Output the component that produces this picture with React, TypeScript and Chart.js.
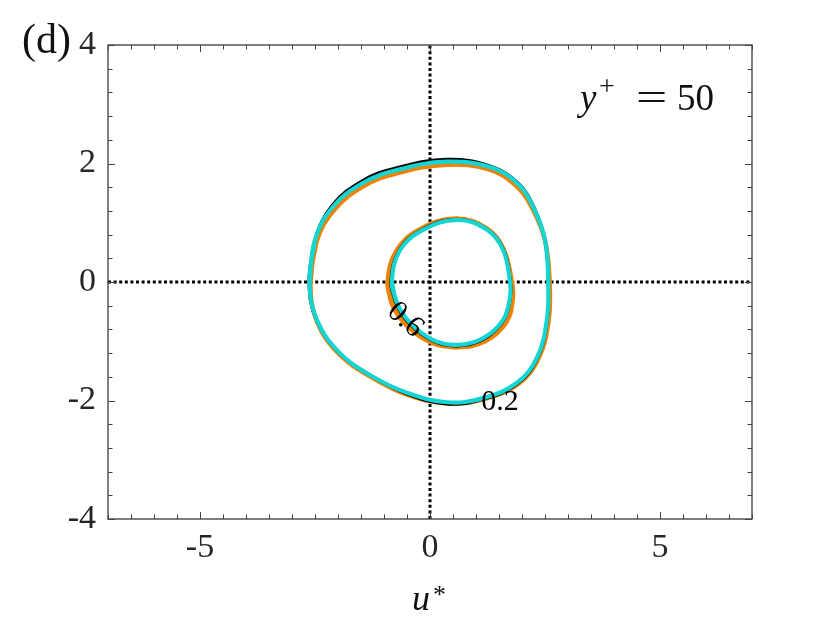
import { useEffect, useRef } from "react";
import { Chart, registerables } from "chart.js";

Chart.register(...registerables);

// ---- axis ticks ----
const xTickValues = [-5, 0, 5];
const yTickValues = [-4, -2, 0, 2, 4];
const xRange = [-7, 7];
const yRange = [-4, 4];

// ---- contour level 0.2 (outer loop), [u*, v*] ----
const outer02Orange: [number, number][] = [
  [-2.6, 0], [-2.47, 0.68], [-2.08, 1.22], [-1.44, 1.62], [-0.7, 1.84], [0.37, 1.98],
  [1.28, 1.9], [1.86, 1.63], [2.22, 1.25], [2.5, 0.7], [2.6, 0], [2.58, -0.64],
  [2.37, -1.27], [1.92, -1.72], [1.15, -1.98], [0.37, -2.05], [-0.5, -1.9],
  [-1.24, -1.62], [-1.97, -1.22], [-2.46, -0.66],
];
const outer02Black: [number, number][] = [
  [-2.63, 0], [-2.5, 0.72], [-2.12, 1.3], [-1.47, 1.71], [-0.72, 1.93], [0.37, 2.07],
  [1.3, 1.96], [1.9, 1.68], [2.25, 1.28], [2.5, 0.71], [2.57, 0], [2.55, -0.64],
  [2.34, -1.28], [1.9, -1.72], [1.15, -1.98], [0.37, -2.06], [-0.5, -1.89],
  [-1.24, -1.6], [-1.97, -1.2], [-2.47, -0.64],
];
const outer02Cyan: [number, number][] = [
  [-2.62, 0], [-2.5, 0.71], [-2.11, 1.27], [-1.46, 1.67], [-0.72, 1.89], [0.37, 2.03],
  [1.3, 1.94], [1.89, 1.67], [2.24, 1.27], [2.5, 0.71], [2.57, 0], [2.54, -0.64],
  [2.33, -1.27], [1.89, -1.7], [1.15, -1.96], [0.37, -2.03], [-0.5, -1.87],
  [-1.24, -1.6], [-1.96, -1.2], [-2.46, -0.64],
];

// ---- contour level 0.6 (inner loop) ----
const inner06Orange: [number, number][] = [
  [-0.92, 0], [-0.82, -0.38], [-0.5, -0.74], [0.05, -1.03], [0.6, -1.1], [1.2, -1.0],
  [1.66, -0.68], [1.8, -0.28], [1.78, 0], [1.6, 0.55], [1.24, 0.9], [0.57, 1.07],
  [-0.2, 0.9], [-0.72, 0.54],
];
const inner06Black: [number, number][] = [
  [-0.85, 0], [-0.74, -0.36], [-0.44, -0.71], [0.07, -1.0], [0.6, -1.08], [1.16, -0.97],
  [1.6, -0.65], [1.75, -0.25], [1.75, 0], [1.6, 0.55], [1.24, 0.89], [0.58, 1.06],
  [-0.16, 0.89], [-0.66, 0.55],
];
const inner06Cyan: [number, number][] = [
  [-0.83, 0], [-0.72, -0.35], [-0.43, -0.69], [0.07, -0.98], [0.59, -1.06], [1.15, -0.95],
  [1.59, -0.64], [1.74, -0.25], [1.74, 0], [1.59, 0.54], [1.24, 0.88], [0.59, 1.05],
  [-0.15, 0.88], [-0.65, 0.54],
];

// ---- contour labels ----
const contourLabelText = ["0.6", "0.2"];
const contourLabelU = [-0.54, 1.52];
const contourLabelV = [-0.64, -2.03];
const contourLabelAngle = [42, 0];

const closeLoop = (pts: [number, number][]) =>
  [...pts, pts[0], pts[1]].map(([x, y]) => ({ x, y }));

const ORANGE = "#EF8200";
const CYAN = "#14D4D4";
const SERIF = "'Liberation Serif', 'DejaVu Serif', serif";

const framePlugin = {
  id: "framePlugin",
  afterDraw(chart: any) {
    const { ctx, chartArea, scales } = chart;
    const { left, right, top, bottom } = chartArea;
    const xs = scales.x;
    const ys = scales.y;
    ctx.save();
    // box
    ctx.strokeStyle = "#2b2b2b";
    ctx.lineWidth = 1.2;
    ctx.strokeRect(left, top, right - left, bottom - top);
    // ticks
    ctx.strokeStyle = "#444";
    ctx.lineWidth = 1;
    ctx.beginPath();
    for (let v = xRange[0]; v <= xRange[1] + 1e-9; v += 0.5) {
      const major = xTickValues.includes(v);
      const len = major ? 7 : 4.5;
      const px = Math.round(xs.getPixelForValue(v)) + 0.5;
      ctx.moveTo(px, bottom);
      ctx.lineTo(px, bottom - len);
      ctx.moveTo(px, top);
      ctx.lineTo(px, top + len);
    }
    for (let v = yRange[0]; v <= yRange[1] + 1e-9; v += 0.4) {
      const r = Math.round(v * 10) / 10;
      const major = yTickValues.includes(r);
      const len = major ? 7 : 4.5;
      const py = Math.round(ys.getPixelForValue(r)) + 0.5;
      ctx.moveTo(left, py);
      ctx.lineTo(left + len, py);
      ctx.moveTo(right, py);
      ctx.lineTo(right - len, py);
    }
    ctx.stroke();

    // contour labels
    ctx.fillStyle = "#000";
    ctx.textAlign = "center";
    ctx.textBaseline = "middle";
    ctx.font = `30px ${SERIF}`;
    contourLabelText.forEach((t, i) => {
      const px = xs.getPixelForValue(contourLabelU[i]);
      const py = ys.getPixelForValue(contourLabelV[i]);
      ctx.save();
      ctx.translate(px, py);
      ctx.rotate((contourLabelAngle[i] * Math.PI) / 180);
      ctx.fillText(t, 0, 0);
      ctx.restore();
    });

    // panel label
    ctx.textAlign = "left";
    ctx.textBaseline = "alphabetic";
    ctx.fillStyle = "#111";
    ctx.font = `42px ${SERIF}`;
    ctx.fillText("(d)", 22, 53);

    // y+ = 50
    ctx.font = `italic 37px ${SERIF}`;
    ctx.fillText("y", 580, 110);
    ctx.font = `28px ${SERIF}`;
    ctx.fillText("+", 599, 95);
    ctx.font = `37px ${SERIF}`;
    ctx.save();
    ctx.translate(636, 110);
    ctx.scale(1.5, 1);
    ctx.fillText("=", 0, 0);
    ctx.restore();
    ctx.fillText("50", 677, 110);

    // x-axis title u*
    const cx = (left + right) / 2;
    ctx.font = `italic 36px ${SERIF}`;
    ctx.fillText("u", cx - 18, 610);
    ctx.font = `26px ${SERIF}`;
    ctx.fillText("*", cx + 3, 603);
    ctx.restore();
  },
};

export default function App() {
  const ref = useRef<HTMLCanvasElement | null>(null);
  useEffect(() => {
    document.body.style.margin = "0";
    const canvas = ref.current!;
    const line = (data: any[], color: string, width: number, order: number) => ({
      data,
      showLine: true,
      borderColor: color,
      borderWidth: width,
      pointRadius: 0,
      tension: 0.4,
      fill: false,
      order,
    });
    const chart = new Chart(canvas, {
      type: "scatter",
      data: {
        datasets: [
          {
            data: [{ x: xRange[0], y: 0 }, { x: xRange[1], y: 0 }],
            showLine: true,
            borderColor: "#000",
            borderWidth: 3,
            borderDash: [3, 2.6],
            pointRadius: 0,
            order: 10,
          },
          {
            data: [{ x: 0, y: yRange[0] }, { x: 0, y: yRange[1] }],
            showLine: true,
            borderColor: "#000",
            borderWidth: 3,
            borderDash: [3, 2.6],
            pointRadius: 0,
            order: 10,
          },
          line(closeLoop(outer02Orange), ORANGE, 4.5, 5),
          line(closeLoop(inner06Orange), ORANGE, 4.5, 5),
          line(closeLoop(outer02Black), "#000", 3, 4),
          line(closeLoop(inner06Black), "#000", 3, 4),
          line(closeLoop(outer02Cyan), CYAN, 4.2, 1),
          line(closeLoop(inner06Cyan), CYAN, 4.2, 1),
        ],
      } as any,
      options: {
        responsive: false,
        animation: false,
        events: [],
        layout: { padding: { left: 0, top: 45, right: 78, bottom: 0 } },
        plugins: { legend: { display: false }, tooltip: { enabled: false } },
        scales: {
          x: {
            type: "linear",
            min: xRange[0],
            max: xRange[1],
            grid: { display: false, drawTicks: false },
            border: { display: false },
            afterBuildTicks: (s: any) => {
              s.ticks = xTickValues.map((v) => ({ value: v }));
            },
            afterFit: (s: any) => {
              s.height = 104;
            },
            ticks: {
              padding: 9,
              color: "#262626",
              font: { family: SERIF, size: 34, lineHeight: 1.2 },
              maxRotation: 0,
            },
          },
          y: {
            type: "linear",
            min: yRange[0],
            max: yRange[1],
            grid: { display: false, drawTicks: false },
            border: { display: false },
            afterBuildTicks: (s: any) => {
              s.ticks = yTickValues.map((v) => ({ value: v }));
            },
            afterFit: (s: any) => {
              s.width = 108;
            },
            ticks: {
              padding: 12,
              color: "#262626",
              font: { family: SERIF, size: 34, lineHeight: 1.2 },
            },
          },
        },
      } as any,
      plugins: [framePlugin],
    });
    return () => chart.destroy();
  }, []);
  return (
    <div style={{ position: "absolute", left: 0, top: 0, width: 830, height: 623 }}>
      <canvas ref={ref} width={830} height={623} style={{ width: 830, height: 623 }} />
    </div>
  );
}
